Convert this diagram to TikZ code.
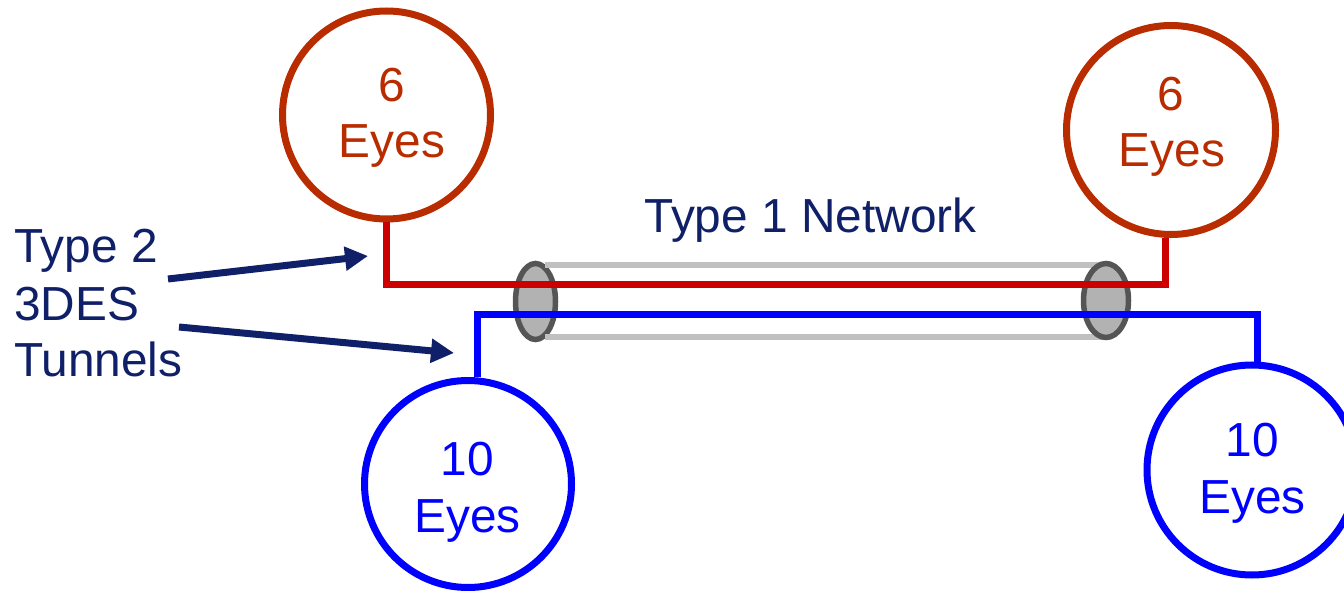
\documentclass[tikz,border=0pt]{standalone}
\usepackage{fontspec}
\setmainfont{Liberation Sans}
\usetikzlibrary{arrows.meta,shapes.geometric}
\definecolor{eyered}{RGB}{184,44,0}
\definecolor{linered}{RGB}{204,0,0}
\definecolor{eyeblue}{RGB}{0,0,255}
\definecolor{navy}{RGB}{16,32,104}
\definecolor{tubefill}{RGB}{178,178,178}
\definecolor{tubeedge}{RGB}{85,85,85}
\definecolor{tubeline}{RGB}{192,192,192}
\begin{document}
\begin{tikzpicture}[x=1pt,y=-1pt,
  eye/.style={circle,draw,line width=7pt,minimum size=#1,inner sep=0pt},
  redeye/.style={eye=#1,draw=eyered},
  blueeye/.style={eye=#1,draw=eyeblue},
  lbl/.style={font=\fontsize{47.8}{56}\selectfont,anchor=base,inner sep=0pt},
  redlbl/.style={lbl,text=eyered},
  bluelbl/.style={lbl,text=eyeblue},
  navylbl/.style={lbl,text=navy},
  tubeend/.style={ellipse,draw=tubeedge,fill=tubefill,line width=5.5pt,inner sep=0pt},
  tubeedgeline/.style={draw=tubeline,line width=6pt},
  redwire/.style={draw=linered,line width=7pt},
  bluewire/.style={draw=eyeblue,line width=7pt},
  pointer/.style={draw=navy,line width=7pt,-{Triangle[length=23pt,width=23pt]}}
]
\useasboundingbox (0,0) rectangle (1344,593);
\clip (0,0) rectangle (1344,593);

% circles
\node[redeye=208pt] (L6) at (386.5,115) {};
\node[redeye=209pt] (R6) at (1171,130) {};
\node[blueeye=207pt] (B10L) at (468,484) {};
\node[blueeye=210pt] (B10R) at (1252,470) {};

% circle texts
\node[redlbl] (L6a) at (392,102) {6};
\node[redlbl] (L6b) at (392,158) {Eyes};
\node[redlbl] (R6a) at (1171,111) {6};
\node[redlbl] (R6b) at (1172,167) {Eyes};
\node[bluelbl] (B10La) at (467.5,475) {10};
\node[bluelbl] (B10Lb) at (467.5,532) {Eyes};
\node[bluelbl] (B10Ra) at (1252,456) {10};
\node[bluelbl] (B10Rb) at (1252.5,513) {Eyes};

% labels
\node[navylbl] (net) at (810.5,233) {Type 1 Network};
\node[navylbl,anchor=base west] (T2a) at (14,263) {Type 2};
\node[navylbl,anchor=base west] (T2b) at (14,321) {3DES};
\node[navylbl,anchor=base west] (T2c) at (14,377) {Tunnels};

% tube
\node[tubeend,minimum width=40pt,minimum height=76pt] (LE) at (535.5,301.5) {};
\coordinate (tt1) at (545,265);
\coordinate (tt2) at (1106,265);
\coordinate (tb1) at (545,337);
\coordinate (tb2) at (1106,337);
\draw[tubeedgeline] (tt1) -- (tt2);
\draw[tubeedgeline] (tb1) -- (tb2);
\node[tubeend,minimum width=45pt,minimum height=74pt] (RE) at (1106,300.5) {};

% wires
\coordinate (redy) at (0,285);
\coordinate (bluey) at (0,315);
\draw[redwire] (L6.south) -- (L6.south |- redy) -| (R6.-93);
\draw[bluewire] (B10L.85) -- (B10L.85 |- bluey) -| (B10R.87);

% pointers
\coordinate (a1s) at (168,279);
\coordinate (a1e) at (368,256);
\coordinate (a2s) at (179,327);
\coordinate (a2e) at (454,353);
\draw[pointer] (a1s) -- (a1e);
\draw[pointer] (a2s) -- (a2e);
\end{tikzpicture}
\end{document}
